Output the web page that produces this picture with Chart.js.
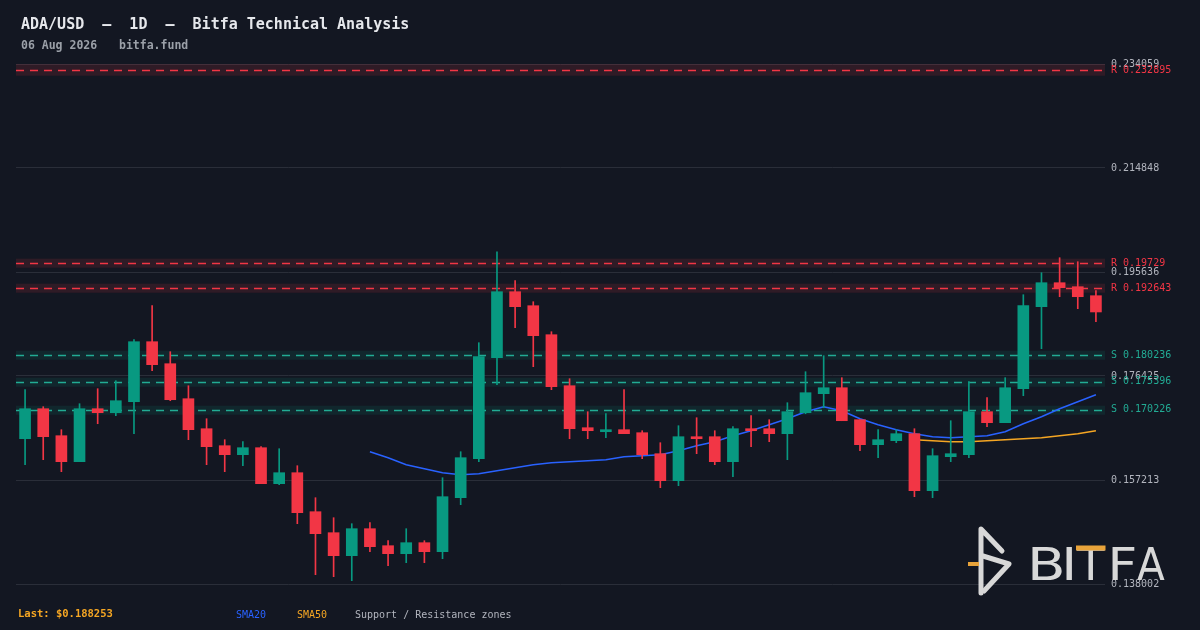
<!DOCTYPE html>
<html>
<head>
<meta charset="utf-8">
<script src="https://cdn.jsdelivr.net/npm/chart.js@4.4.1/dist/chart.umd.min.js"></script>
<style>
html,body{margin:0;padding:0;background:#131722;}
#wrap{width:1200px;height:630px;position:relative;}
canvas{display:block;}
</style>
</head>
<body>
<div id="wrap"><canvas id="c" width="1200" height="630"></canvas></div>
<script>
const categories = [
'Jun 08','Jun 09','Jun 10','Jun 11','Jun 12','Jun 13','Jun 14','Jun 15','Jun 16','Jun 17',
'Jun 18','Jun 19','Jun 20','Jun 21','Jun 22','Jun 23','Jun 24','Jun 25','Jun 26','Jun 27',
'Jun 28','Jun 29','Jun 30','Jul 01','Jul 02','Jul 03','Jul 04','Jul 05','Jul 06','Jul 07',
'Jul 08','Jul 09','Jul 10','Jul 11','Jul 12','Jul 13','Jul 14','Jul 15','Jul 16','Jul 17',
'Jul 18','Jul 19','Jul 20','Jul 21','Jul 22','Jul 23','Jul 24','Jul 25','Jul 26','Jul 27',
'Jul 28','Jul 29','Jul 30','Jul 31','Aug 01','Aug 02','Aug 03','Aug 04','Aug 05','Aug 06'];

const opens = [0.164842,0.170384,0.165397,0.160595,0.170384,0.169645,0.171677,0.182761,0.178697,0.172231,
0.166689,0.163550,0.161887,0.163180,0.156531,0.158562,0.151359,0.147480,0.143231,0.148219,
0.145078,0.143601,0.145633,0.143970,0.153945,0.161149,0.179806,0.191997,0.189411,0.184054,
0.174633,0.166874,0.166135,0.166505,0.165951,0.162072,0.157085,0.165212,0.165212,0.160595,
0.166689,0.166689,0.165766,0.169645,0.173155,0.174264,0.168352,0.163734,0.164473,0.165766,
0.155238,0.161518,0.161887,0.169830,0.167798,0.174079,0.189226,0.193659,0.192921,0.191258];

const highs = [0.173894,0.170753,0.166505,0.171307,0.174079,0.175557,0.183130,0.189411,0.180914,0.174633,
0.168537,0.164658,0.164288,0.163365,0.162995,0.159855,0.153945,0.150250,0.149142,0.149327,
0.146002,0.148219,0.146002,0.157639,0.162441,0.182576,0.199385,0.194029,0.190150,0.184608,
0.175926,0.169830,0.169460,0.173894,0.166320,0.164104,0.167244,0.168721,0.166320,0.167059,
0.169091,0.168352,0.171492,0.177219,0.180175,0.176111,0.168352,0.166505,0.166505,0.166689,
0.162995,0.168167,0.175371,0.172416,0.176111,0.191443,0.195506,0.198276,0.197538,0.192182];

const lows = [0.160040,0.160964,0.158747,0.160595,0.167613,0.169091,0.165766,0.177404,0.171861,0.164658,
0.160040,0.158747,0.159855,0.156531,0.156346,0.149142,0.139722,0.139352,0.138613,0.143970,
0.141384,0.141938,0.141938,0.142677,0.152652,0.160595,0.174818,0.185347,0.178143,0.173894,
0.164842,0.164842,0.165027,0.165766,0.161149,0.155792,0.156161,0.162072,0.160040,0.157823,
0.163365,0.164288,0.160964,0.169460,0.170568,0.168167,0.162626,0.161333,0.164104,0.154130,
0.153945,0.160595,0.161333,0.167059,0.167798,0.172785,0.181468,0.191073,0.188857,0.186455];

const closes = [0.170384,0.165212,0.160595,0.170384,0.169645,0.171861,0.182761,0.178512,0.172046,0.166505,
0.163365,0.161887,0.163180,0.156531,0.158562,0.151174,0.147295,0.143231,0.148219,0.144894,
0.143601,0.145633,0.143970,0.154130,0.161333,0.179990,0.191997,0.189226,0.183869,0.174448,
0.166689,0.166320,0.166505,0.165766,0.161887,0.157085,0.165212,0.164842,0.160595,0.166689,
0.166320,0.165766,0.169830,0.173340,0.174264,0.168167,0.163734,0.164658,0.165766,0.155238,
0.161703,0.162072,0.169830,0.167798,0.174264,0.189411,0.193659,0.192736,0.191073,0.188253];

const sma20 = [null,null,null,null,null,null,null,null,null,null,
null,null,null,null,null,null,null,null,null,0.162441,
0.161333,0.160040,0.159300,0.158562,0.158192,0.158377,0.158931,0.159485,0.160040,0.160409,
0.160595,0.160779,0.160964,0.161518,0.161703,0.161887,0.162626,0.163550,0.164288,0.165397,
0.166320,0.167428,0.168537,0.169830,0.170753,0.170015,0.168537,0.167428,0.166505,0.165766,
0.165212,0.165027,0.165212,0.165397,0.166135,0.167613,0.168906,0.170384,0.171677,0.172970];

const sma50 = [null,null,null,null,null,null,null,null,null,null,
null,null,null,null,null,null,null,null,null,null,
null,null,null,null,null,null,null,null,null,null,
null,null,null,null,null,null,null,null,null,null,
null,null,null,null,null,null,null,null,null,0.164658,
0.164473,0.164288,0.164288,0.164473,0.164658,0.164842,0.165027,0.165397,0.165766,0.166320];

const yTicks = [0.138002,0.157213,0.176425,0.195636,0.214848,0.234059];

const resistanceLevels = [0.232895,0.19729,0.192643];
const resistanceLow = [0.231895,0.196429,0.191811];
const resistanceHigh = [0.234112,0.198091,0.193473];
const supportLevels = [0.180236,0.175396,0.170226];
const supportLow = [0.179437,0.174448,0.169276];
const supportHigh = [0.181098,0.176111,0.170938];

const lastPrice = '0.188253';

const GREEN = '#089981', RED = '#f23645', TEAL = '#22ab94';
const candleColors = opens.map((o,i) => closes[i] >= o ? GREEN : RED);
const bodyData = opens.map((o,i) => [o, closes[i]]);
const wickData = lows.map((l,i) => [l, highs[i]]);

function fitGlyph(ctx, ch, x0, x1, base, size){
  ctx.font = size + 'px "DejaVu Sans"';
  const m = ctx.measureText(ch);
  const gw = m.actualBoundingBoxRight + m.actualBoundingBoxLeft;
  const sx = (x1 - x0) / gw;
  ctx.save();
  ctx.translate(x0, base);
  ctx.scale(sx, 1);
  ctx.textAlign = 'left';
  ctx.textBaseline = 'alphabetic';
  ctx.fillText(ch, m.actualBoundingBoxLeft, 0);
  ctx.restore();
}

const decor = {
  id: 'decor',
  beforeDraw(chart){
    const ctx = chart.ctx;
    ctx.save();
    ctx.fillStyle = '#131722';
    ctx.fillRect(0, 0, chart.width, chart.height);
    ctx.restore();
  },
  beforeDatasetsDraw(chart){
    const {ctx, chartArea: a, scales: {y}} = chart;
    ctx.save();
    ctx.beginPath();
    ctx.rect(a.left, a.top, a.right - a.left, a.bottom - a.top);
    ctx.clip();
    const drawZone = (lvl, lo, hi, fill, stroke) => {
      const yt = y.getPixelForValue(hi), yb = y.getPixelForValue(lo);
      ctx.fillStyle = fill;
      ctx.fillRect(a.left, yt, a.right - a.left, yb - yt);
      const yl = Math.round(y.getPixelForValue(lvl)) + 0.5;
      ctx.strokeStyle = stroke;
      ctx.lineWidth = 1.3;
      ctx.setLineDash([8, 6]);
      ctx.beginPath();
      ctx.moveTo(a.left, yl);
      ctx.lineTo(a.right, yl);
      ctx.stroke();
    };
    resistanceLevels.forEach((v,i) => drawZone(v, resistanceLow[i], resistanceHigh[i], 'rgba(242,54,69,0.13)', RED));
    supportLevels.forEach((v,i) => drawZone(v, supportLow[i], supportHigh[i], 'rgba(8,153,129,0.12)', TEAL));
    ctx.restore();
  },
  afterDraw(chart){
    const {ctx, chartArea: a, scales: {y}} = chart;
    ctx.save();
    // zone labels
    ctx.font = '10px "DejaVu Sans Mono"';
    ctx.textBaseline = 'middle';
    ctx.textAlign = 'left';
    resistanceLevels.forEach(v => {
      ctx.fillStyle = RED;
      ctx.fillText('R ' + String(v), a.right + 6, y.getPixelForValue(v));
    });
    supportLevels.forEach(v => {
      ctx.fillStyle = TEAL;
      ctx.fillText('S ' + String(v), a.right + 6, y.getPixelForValue(v));
    });
    // title
    ctx.textBaseline = 'alphabetic';
    ctx.fillStyle = '#e6e8ec';
    ctx.font = 'bold 15px "DejaVu Sans Mono"';
    ctx.fillText('ADA/USD  \u2013  1D  \u2013  Bitfa Technical Analysis', 21, 29);
    ctx.fillStyle = '#9ba0a8';
    ctx.font = 'bold 11.5px "DejaVu Sans Mono"';
    ctx.fillText('06 Aug 2026', 21, 49);
    ctx.fillText('bitfa.fund', 119, 49);
    // footer
    ctx.fillStyle = '#f5a623';
    ctx.font = 'bold 10.5px "DejaVu Sans Mono"';
    ctx.fillText('Last: $' + lastPrice, 18, 617);
    ctx.font = '10px "DejaVu Sans Mono"';
    ctx.fillStyle = '#2962ff';
    ctx.fillText('SMA20', 236, 618);
    ctx.fillStyle = '#f5a623';
    ctx.fillText('SMA50', 297, 618);
    ctx.fillStyle = '#b2b5be';
    ctx.fillText('Support / Resistance zones', 355, 618);
    // watermark logo
    ctx.strokeStyle = '#d8d8d8';
    ctx.lineWidth = 5;
    ctx.lineCap = 'round';
    ctx.lineJoin = 'round';
    ctx.beginPath();
    ctx.moveTo(981, 593); ctx.lineTo(981, 529); ctx.lineTo(1002, 551);
    ctx.stroke();
    ctx.beginPath();
    ctx.moveTo(983, 556); ctx.lineTo(1009, 564); ctx.lineTo(984, 591);
    ctx.stroke();
    ctx.fillStyle = '#e8a33a';
    ctx.fillRect(968, 562, 11, 4);
    ctx.fillStyle = '#d8d8d8';
    fitGlyph(ctx, 'B', 1032, 1062, 580, 45);
    fitGlyph(ctx, 'I', 1066, 1072, 580, 45);
    fitGlyph(ctx, 'T', 1076, 1105, 580, 45);
    fitGlyph(ctx, 'F', 1112, 1135, 580, 45);
    fitGlyph(ctx, 'A', 1137, 1165, 580, 45);
    ctx.fillStyle = '#e8a33a';
    ctx.fillRect(1076, 545.5, 29.5, 5);
    ctx.restore();
  }
};

new Chart(document.getElementById('c'), {
  data: {
    labels: categories,
    datasets: [
      { type: 'bar', label: 'body', data: bodyData, backgroundColor: candleColors, borderWidth: 0,
        barThickness: 11, minBarLength: 2, grouped: false, order: 0 },
      { type: 'bar', label: 'wick', data: wickData, backgroundColor: candleColors, borderWidth: 0,
        barThickness: 1, grouped: false, order: 1 },
      { type: 'line', label: 'SMA20', data: sma20, borderColor: '#2962ff', borderWidth: 1.5,
        pointRadius: 0, tension: 0, spanGaps: false, order: 2 },
      { type: 'line', label: 'SMA50', data: sma50, borderColor: '#f5a623', borderWidth: 1.5,
        pointRadius: 0, tension: 0, spanGaps: false, order: 3 }
    ]
  },
  options: {
    responsive: false,
    animation: false,
    events: [],
    layout: { padding: { left: 16, top: 64, right: 0, bottom: 46 } },
    plugins: { legend: { display: false }, tooltip: { enabled: false } },
    scales: {
      x: { type: 'category', display: false, offset: true, grid: { display: false } },
      y: {
        position: 'right',
        min: yTicks[0],
        max: yTicks[yTicks.length - 1],
        afterBuildTicks: s => { s.ticks = yTicks.map(v => ({ value: v })); },
        afterFit: s => { s.width = 95; },
        grid: { color: '#2a2e39', drawTicks: false, lineWidth: 1 },
        border: { display: false },
        ticks: { padding: 6, color: '#b2b5be', font: { family: 'DejaVu Sans Mono', size: 10 },
          callback: v => Number(v).toFixed(6) }
      }
    }
  },
  plugins: [decor]
});
</script>
</body>
</html>
